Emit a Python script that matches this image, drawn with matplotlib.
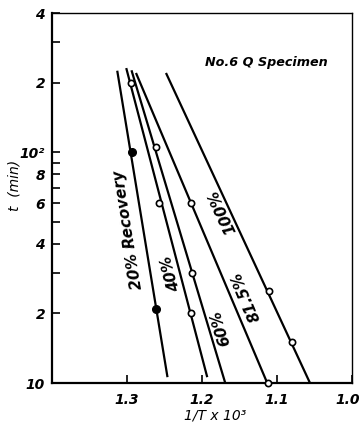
import matplotlib
matplotlib.use("Agg")
import matplotlib.pyplot as plt
from matplotlib.ticker import FixedLocator, NullFormatter
from matplotlib.transforms import ScaledTranslation

# line end points (1/T x 10^3, t in min)
labels = ["20% Recovery", "40%", "60%", "81.5%", "100%"]
line_x = [(1.313, 1.246), (1.301, 1.193), (1.294, 1.169), (1.288, 1.113), (1.248, 1.056)]
line_t = [(225, 10.6), (231, 10.6), (226, 10), (220, 10), (220, 10)]

# measured points
pts_x = [[1.293, 1.261], [1.295, 1.257, 1.215], [1.261, 1.213], [1.214, 1.112], [1.111, 1.080]]
pts_t = [[100, 21], [200, 60, 20], [105, 30], [60, 10], [25, 15]]
filled = [True, False, False, False, False]

# label positions / angles
lab_x = [1.2987, 1.2413, 1.1747, 1.1413, 1.1733]
lab_t = [45.9, 29.9, 17.3, 23.6, 55.0]
lab_rot = [99, 105, 107, 113, 115]

y_ticks = [10, 20, 40, 60, 80, 100, 200, 400]
y_ticklabels = ["10", "2", "4", "6", "8", "10\u00b2", "2", "4"]
y_minor = [30, 50, 70, 90, 300]
x_ticks = [1.3, 1.2, 1.1, 1.0]
x_ticklabels = ["1.3", "1.2", "1.1", "1.0"]

plt.rcParams['font.family'] = ['DejaVu Sans']
plt.rcParams['font.style'] = 'italic'
plt.rcParams['font.weight'] = 'bold'

fig = plt.figure(figsize=(3.59, 4.32), dpi=100)
ax = fig.add_axes([0.1448, 0.1134, 0.8357, 0.8565])

for i in range(len(labels)):
    ax.plot(line_x[i], line_t[i], color='black', lw=1.6, solid_capstyle='butt')
    if filled[i]:
        ax.plot(pts_x[i], pts_t[i], 'o', ms=5.5, color='black', clip_on=False, zorder=3)
    else:
        ax.plot(pts_x[i], pts_t[i], 'o', ms=4.5, mfc='white', mec='black', mew=1.2,
                clip_on=False, zorder=3)
    ax.text(lab_x[i], lab_t[i], labels[i], rotation=lab_rot[i], ha='center', va='center',
            fontsize=11, rotation_mode='anchor')

ax.text(1.196, 245, "No.6 Q Specimen", fontsize=9.2, ha='left', va='center')

ax.set_yscale('log')
ax.set_ylim(10, 400)
ax.set_xlim(1.4, 1.0)
ax.yaxis.set_major_locator(FixedLocator(y_ticks))
ax.set_yticklabels(y_ticklabels)
ax.yaxis.set_minor_locator(FixedLocator(y_minor))
ax.yaxis.set_minor_formatter(NullFormatter())
ax.set_xticks(x_ticks)
ax.set_xticklabels(x_ticklabels)
ax.tick_params(axis='both', which='both', direction='in', length=6, width=1.2, labelsize=10)
ax.tick_params(axis='y', pad=5)
ax.tick_params(axis='x', pad=7)

# last x label sits at the figure edge, nudge it left
lbl = ax.get_xticklabels()[-1]
lbl.set_transform(lbl.get_transform() + ScaledTranslation(-4 / 100, 0, fig.dpi_scale_trans))

for s in ['left', 'bottom']:
    ax.spines[s].set_linewidth(1.6)
for s in ['top', 'right']:
    ax.spines[s].set_linewidth(1.0)

ax.set_xlabel("1/T x 10\u00b3", fontsize=10)
ax.set_ylabel("t  (min)", fontsize=10)
ax.xaxis.set_label_coords(0.543, -0.07)
ax.yaxis.set_label_coords(-0.10, 0.535)

fig.savefig("out.png", dpi=100)
